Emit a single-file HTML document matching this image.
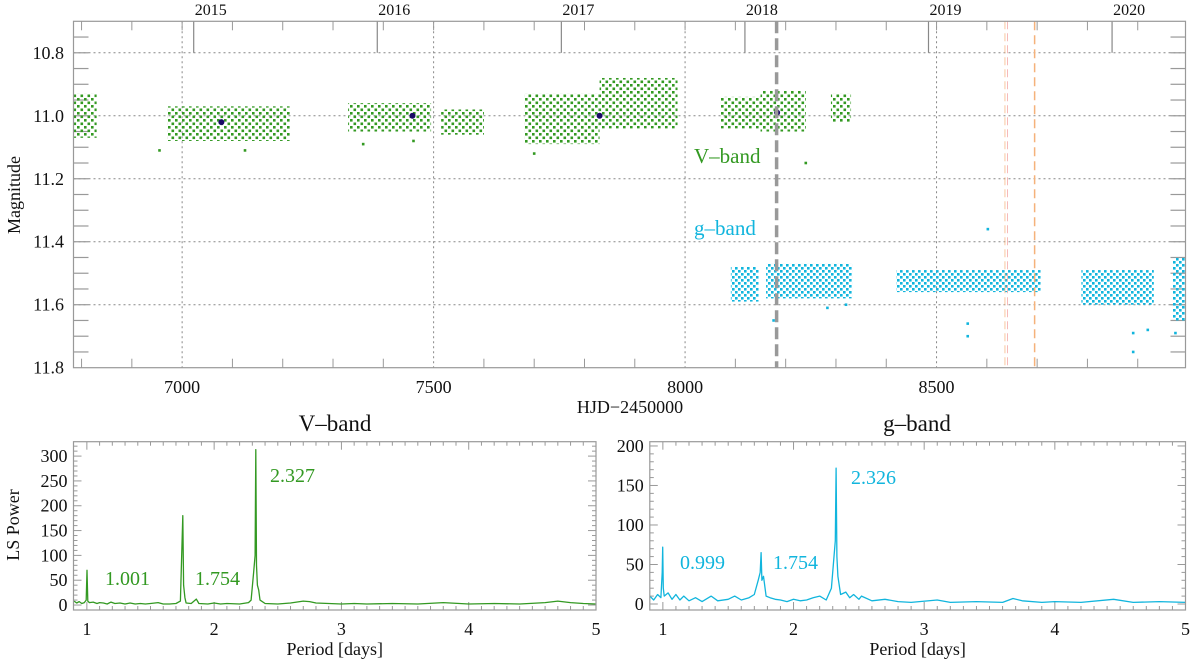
<!DOCTYPE html>
<html><head><meta charset="utf-8"><style>
html,body{margin:0;padding:0;background:#fff;}
svg{display:block;}
text{font-family:"Liberation Serif",serif;}
</style></head><body>
<svg id="fig" width="1200" height="661" viewBox="0 0 1200 661" xmlns="http://www.w3.org/2000/svg" font-family="Liberation Serif, serif">
<defs>
<pattern id="pg" patternUnits="userSpaceOnUse" width="7" height="7"><rect x="0" y="0" width="2.6" height="2.6" fill="#339922"/><rect x="3.5" y="3.5" width="2.6" height="2.6" fill="#339922"/></pattern>
<pattern id="pc" patternUnits="userSpaceOnUse" width="6" height="6"><rect x="0" y="0" width="2.6" height="2.6" fill="#11b5dd"/><rect x="3" y="3" width="2.6" height="2.6" fill="#11b5dd"/></pattern>
</defs>
<g id="topPanel"></g>
<g id="pv"></g>
<g id="pgp"></g>
</svg>
<script>
// ---- light curve data ----
const vSeasonStart=[6784,6970,7330,7515,7680,7830,8070,8150,8290];
const vSeasonEnd=[6830,7215,7495,7600,7830,7985,8150,8240,8330];
const vSeasonBright=[10.93,10.97,10.96,10.98,10.93,10.88,10.94,10.92,10.93];
const vSeasonFaint=[11.07,11.08,11.05,11.06,11.09,11.04,11.04,11.05,11.02];
const vOutlierHjd=[6955,7125,7460,7360,8240,7700];
const vOutlierMag=[11.11,11.11,11.08,11.09,11.15,11.12];
const gSeasonStart=[8091,8161,8420,8788,8970];
const gSeasonEnd=[8146,8332,8707,8932,8995];
const gSeasonBright=[11.48,11.47,11.49,11.49,11.45];
const gSeasonFaint=[11.59,11.58,11.56,11.60,11.65];
const gOutlierHjd=[8602,8562,8562,8891,8891,8920,8176,8283,8320,8975];
const gOutlierMag=[11.36,11.66,11.70,11.75,11.69,11.68,11.65,11.61,11.60,11.69];
const meanHjd=[7078,7458,7830,8183];
const meanMag=[11.02,11.00,11.00,10.99];
const yearLabels=["2015","2016","2017","2018","2019","2020"];
const yearHjd=[7023,7388,7754,8119,8484,8849];
const xTicks=[7000,7500,8000,8500];
const yTicks=[10.8,11.0,11.2,11.4,11.6,11.8];
// ---- periodogram data ----
const vPeriod=[0.9,0.92,0.94,0.96,0.98,0.995,1.001,1.007,1.02,1.05,1.08,1.1,1.13,1.16,1.19,1.22,1.26,1.3,1.34,1.38,1.42,1.46,1.5,1.56,1.6,1.65,1.7,1.735,1.748,1.754,1.76,1.77,1.78,1.82,1.86,1.88,1.95,2.0,2.05,2.1,2.2,2.27,2.29,2.31,2.322,2.327,2.333,2.34,2.35,2.36,2.4,2.5,2.6,2.7,2.75,2.8,2.9,3.0,3.1,3.2,3.4,3.6,3.8,4.0,4.2,4.4,4.6,4.7,4.8,4.9,5.0];
const vPower=[8,4,7,3,5,10,70,8,5,6,3,5,4,2,6,3,4,2,4,2,3,2,3,5,2,2,3,8,130,180,40,15,4,3,12,3,2,4,2,3,2,5,10,65,100,313,80,40,30,10,3,2,4,8,7,4,3,2,3,2,3,2,5,2,3,2,5,8,5,3,2];
const gPeriod=[0.9,0.93,0.96,0.985,0.995,0.999,1.003,1.01,1.04,1.07,1.1,1.13,1.16,1.2,1.25,1.3,1.37,1.42,1.5,1.55,1.6,1.66,1.7,1.73,1.745,1.752,1.758,1.77,1.79,1.82,1.86,1.9,1.95,2.0,2.05,2.1,2.15,2.2,2.25,2.29,2.31,2.32,2.326,2.332,2.34,2.36,2.4,2.43,2.46,2.5,2.52,2.6,2.7,2.8,2.9,3.1,3.2,3.4,3.6,3.68,3.75,3.9,4.0,4.2,4.45,4.6,4.8,5.0];
const gPower=[10,5,12,8,40,72,20,10,14,6,12,5,10,4,8,3,10,4,6,10,5,8,12,30,40,65,30,35,10,8,6,5,3,6,4,5,8,10,5,20,60,80,172,60,35,12,15,8,12,6,10,4,6,3,2,5,2,3,2,7,4,2,3,2,6,2,3,2];
const vPeakLabels=["1.001","1.754","2.327"];
const gPeakLabels=["0.999","1.754","2.326"];

const NS="http://www.w3.org/2000/svg";
const FF="Liberation Serif, serif";
function mk(parent,tag,attrs,text){const e=document.createElementNS(NS,tag);for(const k in attrs)e.setAttribute(k,attrs[k]);if(tag==='text')e.setAttribute('font-family',FF);if(text!==undefined)e.textContent=text;parent.appendChild(e);return e;}

// ===== top panel =====
const topG=document.getElementById('topPanel');
const L=73.5,R=1185.5,T=21.3,B=367.7;
const X0=6784,X1=8995,Y0=10.7,Y1=11.8;
const sx=v=>L+(v-X0)/(X1-X0)*(R-L);
const sy=v=>T+(v-Y0)/(Y1-Y0)*(B-T);
const GR="#339922",CY="#11b5dd",AX="#999";
xTicks.forEach(v=>{const l=mk(topG,'line',{x1:sx(v),x2:sx(v),y1:T,y2:B,stroke:'#888','stroke-dasharray':'2 3','stroke-width':1});

});
yTicks.slice(0,5).forEach(v=>{const l=mk(topG,'line',{x1:L,x2:R,y1:sy(v),y2:sy(v),stroke:'#888','stroke-dasharray':'2 3','stroke-width':1});

});
for(let v=6800;v<=8900;v+=100){mk(topG,'line',{x1:sx(v),x2:sx(v),y1:B,y2:B-(v%500==0?0:9),stroke:AX});mk(topG,'line',{x1:sx(v),x2:sx(v),y1:T,y2:T+9,stroke:AX});}
for(let i=1;i<22;i++){const v=Y0+i*0.05;mk(topG,'line',{x1:L,x2:L+15,y1:sy(v),y2:sy(v),stroke:AX,'stroke-width':1.2});mk(topG,'line',{x1:R,x2:R-15,y1:sy(v),y2:sy(v),stroke:AX,'stroke-width':1.2});}
yearHjd.forEach((v,i)=>{const l=mk(topG,'line',{x1:sx(v),x2:sx(v),y1:T,y2:sy(10.8),stroke:'#888','stroke-width':1.2});


const t=mk(topG,'text',{x:sx(v)+17,y:15,'font-size':16,'text-anchor':'middle',fill:'#111'},yearLabels[i]);

});
vSeasonStart.forEach((s,i)=>{const r=mk(topG,'rect',{x:sx(s),y:sy(vSeasonBright[i]),width:sx(vSeasonEnd[i])-sx(s),height:sy(vSeasonFaint[i])-sy(vSeasonBright[i]),fill:'url(#pg)'});

});
vOutlierHjd.forEach((h,i)=>{const r=mk(topG,'rect',{x:sx(h)-1.3,y:sy(vOutlierMag[i])-1.3,width:2.6,height:2.6,fill:GR});

});
gSeasonStart.forEach((s,i)=>{const r=mk(topG,'rect',{x:sx(s),y:sy(gSeasonBright[i]),width:sx(gSeasonEnd[i])-sx(s),height:sy(gSeasonFaint[i])-sy(gSeasonBright[i]),fill:'url(#pc)'});

});
gOutlierHjd.forEach((h,i)=>{const r=mk(topG,'rect',{x:sx(h)-1.3,y:sy(gOutlierMag[i])-1.3,width:2.6,height:2.6,fill:CY});

});
meanHjd.forEach((h,i)=>{const c=mk(topG,'circle',{cx:sx(h),cy:sy(meanMag[i]),r:3,fill:'#1a0a66'});

});
let ev=mk(topG,'line',{x1:sx(8182),x2:sx(8182),y1:T,y2:B,stroke:'#999','stroke-width':3.5,'stroke-dasharray':'12 5'});


[8636,8641].forEach((h,i)=>{const l=mk(topG,'line',{x1:sx(h),x2:sx(h),y1:T,y2:B,stroke:i?'#f4a0a0':'#f5b27a','stroke-width':0.9,'stroke-dasharray':'8 4','stroke-opacity':0.8});

});
ev=mk(topG,'line',{x1:sx(8695),x2:sx(8695),y1:T,y2:B,stroke:'#f5b27a','stroke-width':1.5,'stroke-dasharray':'9 5'});


mk(topG,'rect',{x:L,y:T,width:R-L,height:B-T,fill:'none',stroke:AX,'stroke-width':1.2});
xTicks.forEach(v=>{const t=mk(topG,'text',{x:sx(v),y:393,'font-size':18,'text-anchor':'middle',fill:'#111'},String(v));

});
yTicks.forEach(v=>{const t=mk(topG,'text',{x:64,y:sy(v)+6,'font-size':18,'text-anchor':'end',fill:'#111'},v.toFixed(1));

});
let tt=mk(topG,'text',{x:630,y:413,'font-size':18,'text-anchor':'middle',fill:'#111'},'HJD\u22122450000');


tt=mk(topG,'text',{x:0,y:0,'font-size':18,'text-anchor':'middle',fill:'#111',transform:'translate(20,195) rotate(-90)'},'Magnitude');


tt=mk(topG,'text',{x:694,y:163,'font-size':21,fill:GR},'V\u2013band');


tt=mk(topG,'text',{x:694,y:235,'font-size':21,fill:CY},'g\u2013band');



// ===== periodograms =====
function pgram(g,o){
const pL=o.L,pR=o.R,pT=o.T,pB=o.B;
const px=v=>pL+(v-o.x0)/(o.x1-o.x0)*(pR-pL);
const py=v=>pB-(v-o.y0)/(o.y1-o.y0)*(pB-pT);
for(let k=10;k<=50;k++){const v=k/10;const big=k%10==0;mk(g,'line',{x1:px(v),x2:px(v),y1:pB,y2:pB-(big?8:4),stroke:AX});mk(g,'line',{x1:px(v),x2:px(v),y1:pT,y2:pT+(big?8:4),stroke:AX});}
for(let v=0;v<o.y1;v+=10){const big=v%50==0;mk(g,'line',{x1:pL,x2:pL+(big?8:4),y1:py(v),y2:py(v),stroke:AX});mk(g,'line',{x1:pR,x2:pR-(big?8:4),y1:py(v),y2:py(v),stroke:AX});}
const pts=o.per.map((p,i)=>px(p).toFixed(1)+','+py(o.pow[i]).toFixed(1)).join(' ');
const pl=mk(g,'polyline',{points:pts,fill:'none',stroke:o.col,'stroke-width':1.3,'stroke-linejoin':'round'});


mk(g,'rect',{x:pL,y:pT,width:pR-pL,height:pB-pT,fill:'none',stroke:AX,'stroke-width':1.2});
[1,2,3,4,5].forEach(v=>{const t=mk(g,'text',{x:px(v),y:pB+25,'font-size':18,'text-anchor':'middle',fill:'#111'},String(v));

});
o.yt.forEach(v=>{const t=mk(g,'text',{x:pL-6,y:py(v)+6,'font-size':18,'text-anchor':'end',fill:'#111'},String(v));

});
let t=mk(g,'text',{x:(pL+pR)/2,y:pB+45,'font-size':18,'text-anchor':'middle',fill:'#111'},'Period [days]');


t=mk(g,'text',{x:o.tx,y:431,'font-size':23,'text-anchor':'middle',fill:'#111'},o.title);


o.labels.forEach((s,i)=>{const e=mk(g,'text',{x:o.lx[i],y:o.ly[i],'font-size':20,fill:o.col},s);

});
if(o.ylab){t=mk(g,'text',{x:0,y:0,'font-size':18,'text-anchor':'middle',fill:'#111',transform:'translate(19,525) rotate(-90)'},'LS Power');

}
}
pgram(document.getElementById('pv'),{L:73.5,R:596,T:441.7,B:610,x0:0.895,x1:5,y0:-10,y1:329,per:vPeriod,pow:vPower,col:GR,yt:[0,50,100,150,200,250,300],title:'V\u2013band',tx:335,labels:vPeakLabels,lx:[105,195,270],ly:[585,585,482],ylab:true});
pgram(document.getElementById('pgp'),{L:649.8,R:1185.5,T:441.7,B:610,x0:0.9,x1:5,y0:-7.6,y1:205.4,per:gPeriod,pow:gPower,col:CY,yt:[0,50,100,150,200],title:'g\u2013band',tx:917,labels:gPeakLabels,lx:[680,773,851],ly:[569,569,484],ylab:false});
</script>
</body></html>
